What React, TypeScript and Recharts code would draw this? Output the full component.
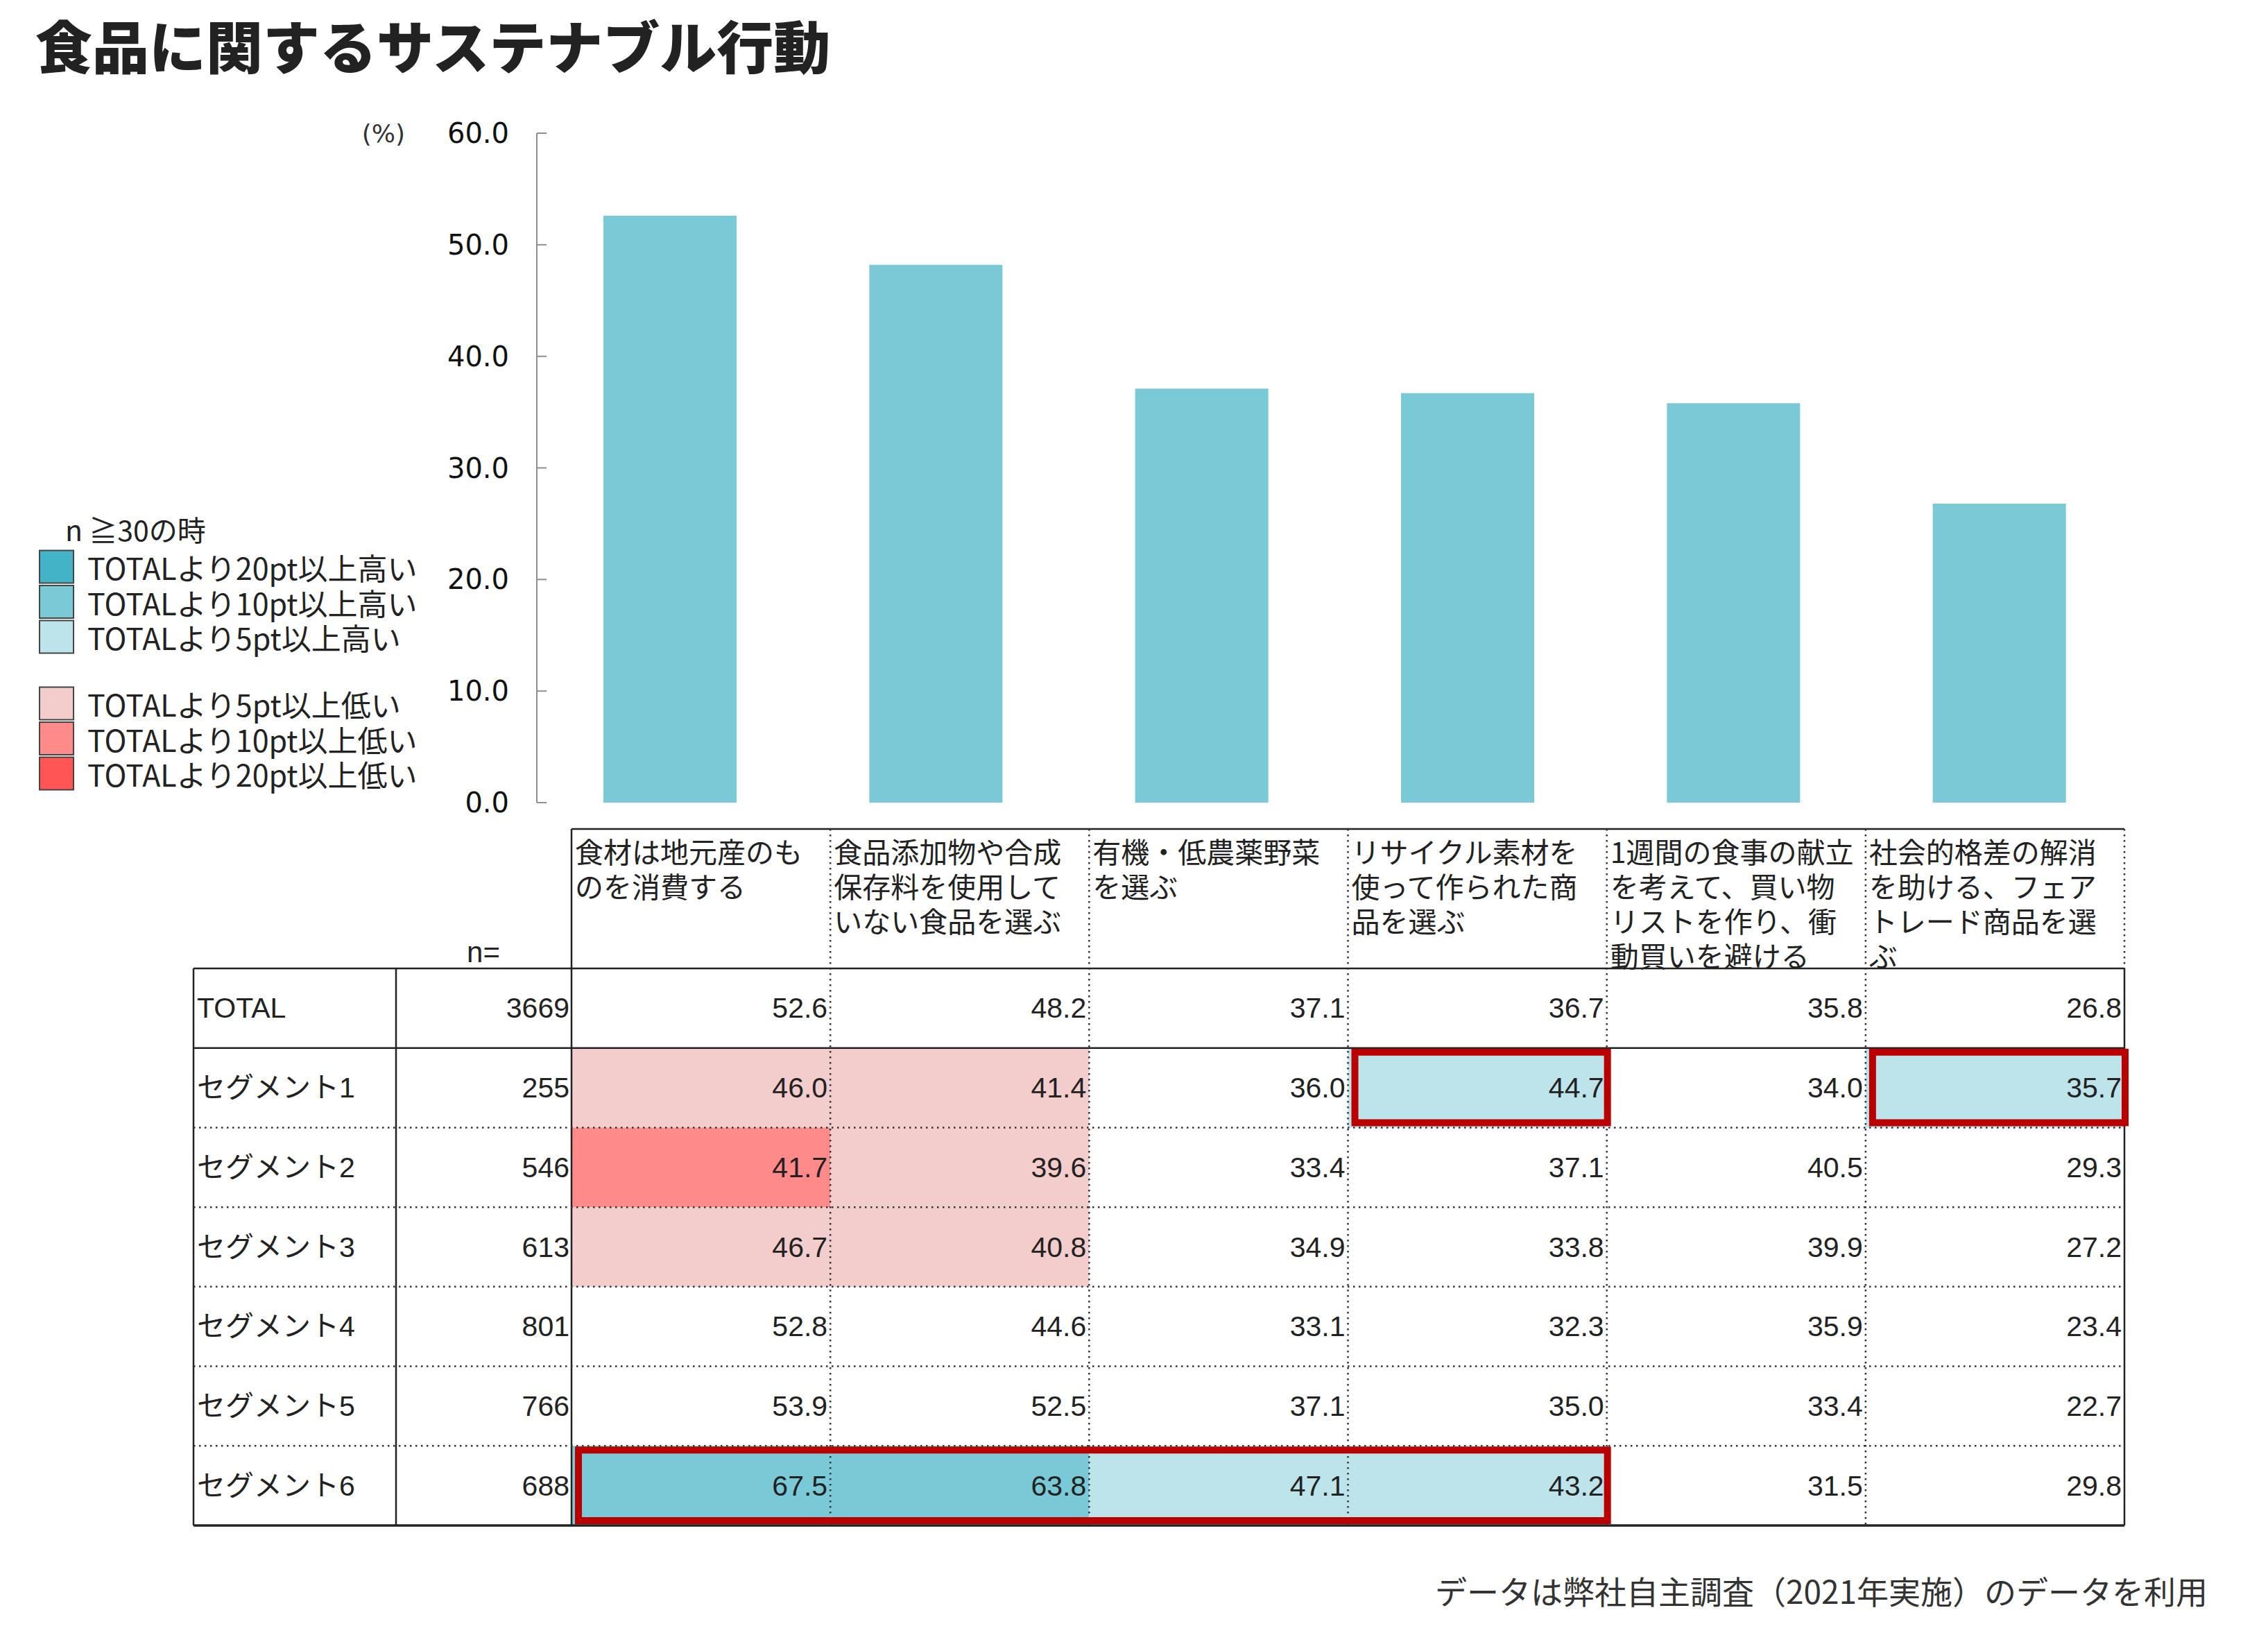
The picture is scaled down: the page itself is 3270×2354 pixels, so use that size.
import { Bar, BarChart, XAxis, YAxis } from "recharts";

// survey items (header lines split where the table wraps them)
const categories = [
  "食材は地元産のも\nのを消費する",
  "食品添加物や合成\n保存料を使用して\nいない食品を選ぶ",
  "有機・低農薬野菜\nを選ぶ",
  "リサイクル素材を\n使って作られた商\n品を選ぶ",
  "1週間の食事の献立\nを考えて、買い物\nリストを作り、衝\n動買いを避ける",
  "社会的格差の解消\nを助ける、フェア\nトレード商品を選\nぶ",
];

const rowNames = [
  "TOTAL",
  "セグメント1",
  "セグメント2",
  "セグメント3",
  "セグメント4",
  "セグメント5",
  "セグメント6",
];
const sampleSizes = [3669, 255, 546, 613, 801, 766, 688];

const total = [52.6, 48.2, 37.1, 36.7, 35.8, 26.8];
const segment1 = [46.0, 41.4, 36.0, 44.7, 34.0, 35.7];
const segment2 = [41.7, 39.6, 33.4, 37.1, 40.5, 29.3];
const segment3 = [46.7, 40.8, 34.9, 33.8, 39.9, 27.2];
const segment4 = [52.8, 44.6, 33.1, 32.3, 35.9, 23.4];
const segment5 = [53.9, 52.5, 37.1, 35.0, 33.4, 22.7];
const segment6 = [67.5, 63.8, 47.1, 43.2, 31.5, 29.8];

const yTicks = [0, 10, 20, 30, 40, 50, 60];

const legendHigh = [
  "TOTALより20pt以上高い",
  "TOTALより10pt以上高い",
  "TOTALより5pt以上高い",
];
const legendLow = [
  "TOTALより5pt以上低い",
  "TOTALより10pt以上低い",
  "TOTALより20pt以上低い",
];

// boxed cells: row index into rowNames, first and last column
const callouts = [
  { row: 1, from: 3, to: 3 },
  { row: 1, from: 5, to: 5 },
  { row: 6, from: 0, to: 3 },
];

const W = 3270;
const H = 2354;

const JP = '"Noto Sans CJK JP", "Noto Sans", sans-serif';
const NUM = '"Liberation Sans", Arial, "Noto Sans CJK JP", sans-serif';
const AXIS = '"DejaVu Sans", sans-serif';

const BAR = "#79c9d6";
const HIGH = ["#bde3eb", "#79c9d6", "#43b4c8"]; // 5, 10, 20pt
const LOW = ["#f3cccc", "#ff8a8a", "#ff5555"];
const LINE = "#222";
const RED = "#ba0000";

// plot area
const PLOT_LEFT = 774;
const PLOT_RIGHT = 3074;
const PLOT_TOP = 192;
const PLOT_BOTTOM = 1157;
const Y_AXIS_W = 200;

// table
const TABLE_LEFT = 279;
const LABEL_RIGHT = 571;
const DATA_LEFT = 824;
const DATA_RIGHT = 3063;
const HEADER_TOP = 1195;
const BODY_TOP = 1396;
const TABLE_BOTTOM = 2199;
const ROW_H = (TABLE_BOTTOM - BODY_TOP) / rowNames.length;
const COL_W = (DATA_RIGHT - DATA_LEFT) / categories.length;

const segmentRows = [segment1, segment2, segment3, segment4, segment5, segment6];
const tableRows = [total, ...segmentRows];

const chartData = categories.map((name, i) => ({ name, total: total[i] }));

const colX = (i: number) => DATA_LEFT + i * COL_W;
const rowY = (i: number) => BODY_TOP + i * ROW_H;

const shadeFor = (value: number, base: number): string | null => {
  const d = Math.round((value - base) * 10) / 10;
  const palette = d > 0 ? HIGH : LOW;
  const a = Math.abs(d);
  if (a > 20) return palette[2];
  if (a > 10) return palette[1];
  if (a > 5) return palette[0];
  return null;
};

const AxisTick = ({ x, y, payload }: any) => (
  <g>
    <line x1={x + 40} x2={x + 54} y1={y} y2={y} stroke="#8e8e8e" strokeWidth={2} />
    <text
      x={x}
      y={y}
      textAnchor="end"
      dominantBaseline="central"
      fontFamily={AXIS}
      fontSize={40}
      fill="#111"
    >
      {Number(payload.value).toFixed(1)}
    </text>
  </g>
);

const solid = { stroke: LINE, strokeWidth: 2.5 };
const dotted = { stroke: "#333", strokeWidth: 2.5, strokeDasharray: "2.5 5.5" };

const Legend = () => {
  const swatch = (label: string, color: string, cy: number) => (
    <g key={label}>
      <rect x={57} y={cy - 23.5} width={49} height={47} fill={color} stroke="#444" strokeWidth={2} />
      <text x={126} y={cy} dominantBaseline="central" fontFamily={JP} fontSize={43} fill="#222">
        {label}
      </text>
    </g>
  );
  return (
    <g>
      <text x={94} y={762} dominantBaseline="central" fontFamily={JP} fontSize={41} fill="#222">
        n ≧30の時
      </text>
      {legendHigh.map((l, i) => swatch(l, HIGH[2 - i], 817 + i * 50.5))}
      {legendLow.map((l, i) => swatch(l, LOW[i], 1014 + i * 50.5))}
    </g>
  );
};

const Table = () => {
  const cells: any[] = [];
  tableRows.forEach((vals, r) => {
    vals.forEach((v, c) => {
      const fill = r === 0 ? null : shadeFor(v, total[c]);
      if (fill)
        cells.push(
          <rect key={`f-${r}-${c}`} x={colX(c)} y={rowY(r)} width={COL_W} height={ROW_H} fill={fill} />
        );
    });
  });

  const lines: any[] = [];
  // header box
  lines.push(<line key="ht" x1={DATA_LEFT} x2={DATA_RIGHT} y1={HEADER_TOP} y2={HEADER_TOP} {...solid} />);
  lines.push(<line key="hl" x1={DATA_LEFT} x2={DATA_LEFT} y1={HEADER_TOP} y2={TABLE_BOTTOM} {...solid} />);
  lines.push(<line key="hr" x1={DATA_RIGHT} x2={DATA_RIGHT} y1={HEADER_TOP} y2={BODY_TOP} {...dotted} />);
  for (let i = 1; i < categories.length; i++)
    lines.push(
      <line key={`v-${i}`} x1={colX(i)} x2={colX(i)} y1={HEADER_TOP} y2={TABLE_BOTTOM} {...dotted} />
    );
  // body frame
  [TABLE_LEFT, LABEL_RIGHT, DATA_RIGHT].forEach((x) =>
    lines.push(<line key={`bv-${x}`} x1={x} x2={x} y1={BODY_TOP} y2={TABLE_BOTTOM} {...solid} />)
  );
  for (let r = 0; r <= rowNames.length; r++) {
    const y = rowY(r);
    const isSolid = r <= 1 || r === rowNames.length;
    lines.push(
      <line
        key={`h-${r}`}
        x1={TABLE_LEFT}
        x2={DATA_RIGHT}
        y1={y}
        y2={y}
        {...(isSolid ? solid : dotted)}
        strokeWidth={r === rowNames.length ? 3.5 : 2.5}
      />
    );
  }

  const header = categories.map((cat, c) =>
    cat.split("\n").map((line, k) => (
      <text
        key={`hd-${c}-${k}`}
        x={colX(c) + 5}
        y={1226 + k * 50}
        dominantBaseline="central"
        fontFamily={JP}
        fontSize={41}
        fill="#222"
      >
        {line}
      </text>
    ))
  );

  const body = tableRows.map((vals, r) => {
    const cy = rowY(r) + ROW_H / 2;
    return (
      <g key={`r-${r}`} fontFamily={NUM} fontSize={41} fill="#222">
        <text x={TABLE_LEFT + 5} y={cy} dominantBaseline="central">
          {rowNames[r]}
        </text>
        <text x={DATA_LEFT - 3} y={cy} textAnchor="end" dominantBaseline="central">
          {sampleSizes[r]}
        </text>
        {vals.map((v, c) => (
          <text key={c} x={colX(c + 1) - 4} y={cy} textAnchor="end" dominantBaseline="central">
            {v.toFixed(1)}
          </text>
        ))}
      </g>
    );
  });

  const boxes = callouts.map((b, i) => (
    <rect
      key={`cb-${i}`}
      x={colX(b.from) + 10}
      y={rowY(b.row) + 6}
      width={colX(b.to + 1) - colX(b.from) - 9}
      height={ROW_H - 13}
      fill="none"
      stroke={RED}
      strokeWidth={10}
    />
  ));

  return (
    <g>
      {cells}
      {lines}
      {header}
      <text
        x={697}
        y={1372}
        textAnchor="middle"
        dominantBaseline="central"
        fontFamily={NUM}
        fontSize={42}
        fill="#222"
      >
        n=
      </text>
      {body}
      {boxes}
    </g>
  );
};

export default function App() {
  return (
    <div style={{ position: "absolute", left: 0, top: 0, width: W, height: H, background: "#fff" }}>
      <BarChart
        width={W}
        height={H}
        data={chartData}
        margin={{
          top: PLOT_TOP,
          right: W - PLOT_RIGHT,
          bottom: H - PLOT_BOTTOM,
          left: PLOT_LEFT - Y_AXIS_W,
        }}
        barCategoryGap="25%"
      >
        <XAxis dataKey="name" hide />
        <YAxis
          domain={[0, 60]}
          ticks={yTicks}
          interval={0}
          width={Y_AXIS_W}
          tickSize={0}
          tickMargin={40}
          tickLine={false}
          axisLine={{ stroke: "#8e8e8e", strokeWidth: 2 }}
          tick={<AxisTick />}
        />
        <Bar dataKey="total" fill={BAR} barSize={192} isAnimationActive={false} />
      </BarChart>
      <svg
        width={W}
        height={H}
        style={{ position: "absolute", left: 0, top: 0, pointerEvents: "none" }}
      >
        <text
          x={51}
          y={63}
          dominantBaseline="central"
          fontFamily={JP}
          fontSize={82}
          fontWeight={900}
          fill="#222"
        >
          食品に関するサステナブル行動
        </text>
        <text
          x={584}
          y={192}
          textAnchor="end"
          dominantBaseline="central"
          fontFamily={AXIS}
          fontSize={36}
          fill="#333"
        >
          (%)
        </text>
        <Legend />
        <Table />
        <text
          x={3183}
          y={2292}
          textAnchor="end"
          dominantBaseline="central"
          fontFamily={JP}
          fontSize={46}
          fill="#333"
        >
          データは弊社自主調査（2021年実施）のデータを利用
        </text>
      </svg>
    </div>
  );
}
